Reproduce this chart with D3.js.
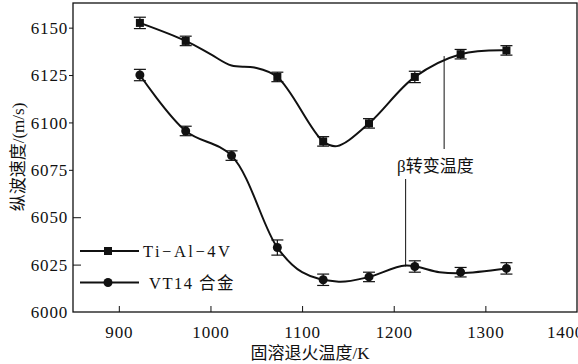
<!DOCTYPE html>
<html><head><meta charset="utf-8">
<script src="https://cdn.jsdelivr.net/npm/d3@7"></script>
<style>
html,body{margin:0;padding:0;background:#fff;}
</style></head>
<body><svg id="c" width="578" height="364"></svg>
<script>
// ---- data ----
const tempK = [923, 973, 1023, 1073, 1123, 1173, 1223, 1273, 1323];
const tiTemp = [923, 973, 1073, 1123, 1173, 1223, 1273, 1323];
const tiVel = [6152.5, 6143, 6124, 6090, 6099.5, 6124, 6136, 6138];
const tiErr = [3, 2.5, 2.5, 2.5, 2.5, 3, 2.5, 2.5];
const vtVel = [6125, 6095.5, 6082.5, 6034, 6017, 6018.5, 6024, 6021, 6023];
const vtErr = [3, 2.5, 2.5, 4, 3, 2.5, 3, 2.5, 3];
// fitted curves
const tiFitT = [923, 973, 1000, 1023, 1048, 1073, 1123, 1138, 1173, 1223, 1273, 1323];
const tiFitV = [6152.5, 6143, 6136, 6130, 6129, 6124, 6090, 6087.5, 6099.5, 6124, 6136, 6138];
const vtFitT = [923, 973, 1023, 1073, 1100, 1140, 1173, 1213, 1250, 1273, 1323];
const vtFitV = [6125, 6095.5, 6082.5, 6034, 6021, 6016, 6018.5, 6024.5, 6021, 6020.5, 6023];
const xTicks = [900, 1000, 1100, 1200, 1300, 1400];
const yTicks = [6000, 6025, 6050, 6075, 6100, 6125, 6150];
const seriesNames = ["Ti\u2212Al\u22124V", "VT14 合金"];
const betaLabel = "β转变温度";
const betaLineT = [1255, 1213];
const betaLineV = [6135, 6024];
const xTitle = "固溶退火温度/K";
const yTitle = "纵波速度/(m/s)";

const FONT = "'Liberation Serif','Noto Sans CJK SC',serif";
const svg = d3.select("#c");
const L = 73, R = 577, T = 3, B = 312;
const x = d3.scaleLinear().domain([850, 1400]).range([L, R]);
const y = d3.scaleLinear().domain([6000, 6163]).range([B, T]);

// frame
svg.append("rect").attr("x", L).attr("y", T).attr("width", R - L).attr("height", B - T)
  .attr("fill", "none").attr("stroke", "#111").attr("stroke-width", 1.3);

// x axis
const xa = svg.append("g").attr("transform", `translate(0,${B})`)
  .call(d3.axisBottom(x).tickValues(xTicks).tickFormat(d3.format("d")).tickSizeInner(-6).tickSizeOuter(0).tickPadding(14));
xa.select(".domain").remove();
xa.selectAll("line").attr("stroke", "#111").attr("stroke-width", 1);
xa.selectAll("text").attr("font-size", 17).attr("letter-spacing", "0.8px").attr("fill", "#111");
xa.selectAll(".tick").filter(d => d === 1400).select("line").remove();
xa.selectAll(".tick").filter(d => d === 1400).select("text").attr("dx", -12);

// y axis
const ya = svg.append("g").attr("transform", `translate(${L},0)`)
  .call(d3.axisLeft(y).tickValues(yTicks).tickFormat(d3.format("d")).tickSizeInner(4).tickSizeOuter(0).tickPadding(1));
ya.select(".domain").remove();
ya.selectAll(".tick").filter(d => d === 6025 || d === 6050).select("line").attr("x2", 8);
ya.selectAll(".tick").filter(d => d === 6000).select("line").remove();
ya.selectAll("line").attr("stroke", "#111").attr("stroke-width", 1);
ya.selectAll("text").attr("font-size", 17).attr("letter-spacing", "0.8px").attr("fill", "#111")
  .attr("dy", "0.34em");

// titles
svg.append("text").attr("x", 310).attr("y", 359).attr("text-anchor", "middle")
  .attr("font-size", 17).text(xTitle);
svg.append("text").attr("transform", "translate(24,157) rotate(-90)").attr("text-anchor", "middle")
  .attr("font-size", 17).text(yTitle);

// curves
const line = d3.line().curve(d3.curveCatmullRom.alpha(0.5));
svg.append("path").attr("d", line(tiFitT.map((t, i) => [x(t), y(tiFitV[i])])))
  .attr("fill", "none").attr("stroke", "#111").attr("stroke-width", 2);
svg.append("path").attr("d", line(vtFitT.map((t, i) => [x(t), y(vtFitV[i])])))
  .attr("fill", "none").attr("stroke", "#111").attr("stroke-width", 2);

// error bars
function errBars(ts, vs, es) {
  const g = svg.append("g").attr("stroke", "#111").attr("stroke-width", 1.2);
  ts.forEach((t, i) => {
    const cx = x(t), y1 = y(vs[i] + es[i]), y2 = y(vs[i] - es[i]);
    g.append("line").attr("x1", cx).attr("x2", cx).attr("y1", y1).attr("y2", y2);
    g.append("line").attr("x1", cx - 6).attr("x2", cx + 6).attr("y1", y1).attr("y2", y1);
    g.append("line").attr("x1", cx - 6).attr("x2", cx + 6).attr("y1", y2).attr("y2", y2);
  });
}
errBars(tiTemp, tiVel, tiErr);
errBars(tempK, vtVel, vtErr);

// markers
svg.append("g").selectAll("rect").data(tiTemp).join("rect")
  .attr("x", (d) => x(d) - 4).attr("y", (d, i) => y(tiVel[i]) - 4)
  .attr("width", 8).attr("height", 8).attr("fill", "#111");
svg.append("g").selectAll("circle").data(tempK).join("circle")
  .attr("cx", d => x(d)).attr("cy", (d, i) => y(vtVel[i])).attr("r", 4.5).attr("fill", "#111");

// beta annotation
svg.append("line").attr("x1", x(betaLineT[0])).attr("x2", x(betaLineT[0]))
  .attr("y1", y(betaLineV[0])).attr("y2", 149).attr("stroke", "#111").attr("stroke-width", 1);
svg.append("line").attr("x1", x(betaLineT[1])).attr("x2", x(betaLineT[1]))
  .attr("y1", 179).attr("y2", y(betaLineV[1])).attr("stroke", "#111").attr("stroke-width", 1);
svg.append("text").attr("x", 397).attr("y", 172).attr("font-size", 17).text(betaLabel);

// legend
const leg = svg.append("g");
[0, 1].forEach(i => {
  const ly = i === 0 ? 251 : 282.5;
  leg.append("line").attr("x1", 80).attr("x2", 139).attr("y1", ly).attr("y2", ly)
    .attr("stroke", "#111").attr("stroke-width", 2);
  if (i === 0) leg.append("rect").attr("x", 104).attr("y", ly - 4).attr("width", 8).attr("height", 8).attr("fill", "#111");
  else leg.append("circle").attr("cx", 108).attr("cy", ly).attr("r", 4.5).attr("fill", "#111");
  leg.append("text").attr("x", i === 0 ? 143 : 149).attr("y", ly + 6).attr("font-size", 16.5)
    .attr("letter-spacing", i === 0 ? "2.5px" : "1.5px").text(seriesNames[i]);
});

// fonts on every text element
svg.selectAll("g").attr("font-family", null);
svg.selectAll("text").attr("font-family", FONT).style("font-family", FONT).attr("fill", "#111");
</script></body></html>
